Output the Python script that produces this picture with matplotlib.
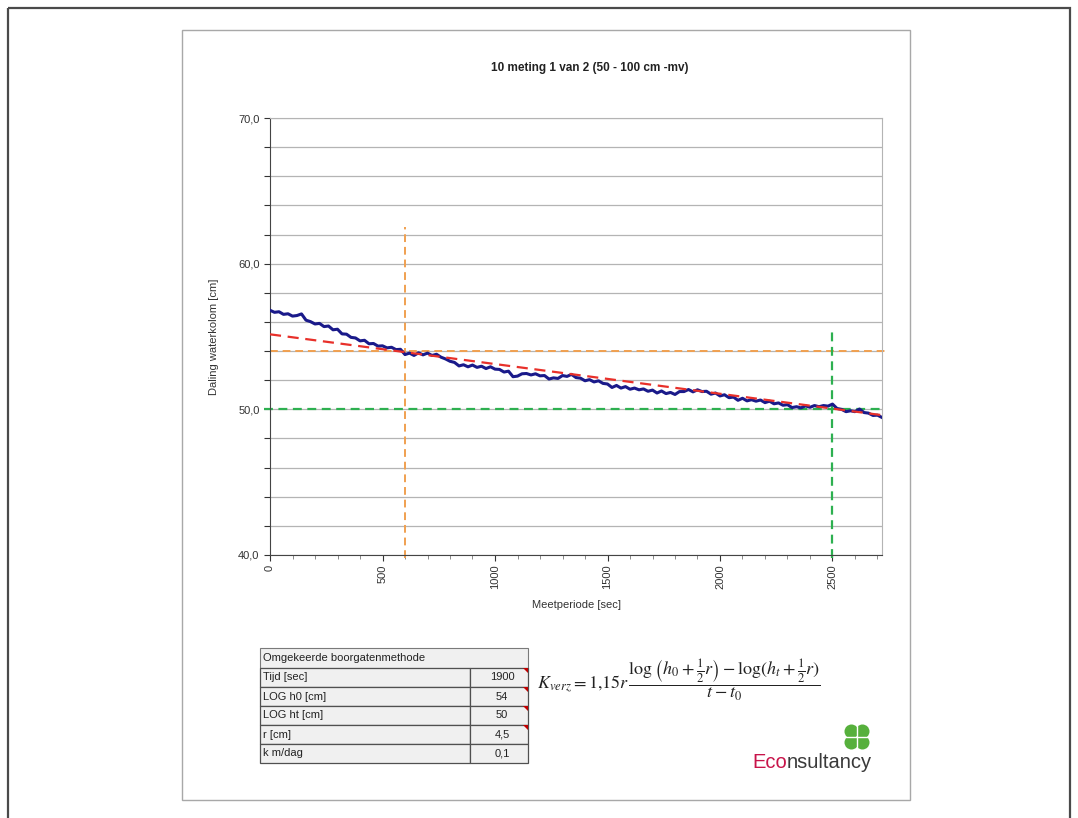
import numpy as np
import matplotlib.pyplot as plt
from matplotlib.patches import Rectangle, Polygon, Circle

plt.rcParams['font.family'] = ['Liberation Sans', 'DejaVu Sans']
plt.rcParams['mathtext.fontset'] = 'stix'

# gemeten waterstand, elke 20 s
stand = [56.80, 56.66, 56.70, 56.52, 56.56, 56.40, 56.44, 56.55, 56.12, 56.02,
         55.86, 55.90, 55.68, 55.72, 55.46, 55.50, 55.18, 55.16, 54.94, 54.90,
         54.70, 54.74, 54.50, 54.52, 54.34, 54.36, 54.22, 54.26, 54.10, 54.12,
         53.76, 53.86, 53.70, 53.88, 53.74, 53.86, 53.70, 53.78, 53.58, 53.46,
         53.30, 53.22, 52.98, 53.06, 52.92, 53.04, 52.88, 52.96, 52.80, 52.92,
         52.76, 52.74, 52.56, 52.62, 52.24, 52.28, 52.44, 52.46, 52.36, 52.44,
         52.30, 52.32, 52.08, 52.16, 52.12, 52.32, 52.26, 52.40, 52.18, 52.14,
         51.96, 52.04, 51.88, 51.96, 51.78, 51.74, 51.50, 51.64, 51.46, 51.56,
         51.38, 51.46, 51.34, 51.40, 51.24, 51.32, 51.12, 51.26, 51.08, 51.16,
         51.02, 51.22, 51.22, 51.36, 51.20, 51.34, 51.22, 51.24, 51.04, 51.12,
         50.92, 51.00, 50.80, 50.84, 50.62, 50.76, 50.58, 50.66, 50.56, 50.64,
         50.46, 50.56, 50.38, 50.44, 50.28, 50.32, 50.12, 50.18, 50.10, 50.24,
         50.14, 50.26, 50.18, 50.26, 50.22, 50.36, 50.06, 50.00, 49.84, 49.90,
         49.84, 50.02, 49.78, 49.74, 49.58, 49.60, 49.44]
tijd = np.arange(len(stand)) * 20

# trendlijn (begin- en eindpunt)
trend_t = [0, 2720]
trend_h = [55.15, 49.60]

t0, t1 = 600, 2500
h0, ht = 54, 50

tabel_labels = ['Tijd [sec]', 'LOG h0 [cm]', 'LOG ht [cm]', 'r [cm]', 'k m/dag']
tabel_waarden = ['1900', '54', '50', '4,5', '0,1']

W, H = 1078, 818
fig = plt.figure(figsize=(W / 100, H / 100), dpi=100)

# achtergrond in pixelcoordinaten
bg = fig.add_axes([0, 0, 1, 1], zorder=0)
bg.set_xlim(0, W)
bg.set_ylim(H, 0)
bg.axis('off')
bg.add_patch(Rectangle((8, 8), 1062, 830, fill=False, edgecolor='#4a4a4a', lw=1.6))
bg.add_patch(Rectangle((182, 30), 728, 770, facecolor='white', edgecolor='#a8a8a8', lw=1.0))

bg.text(590, 68, '10 meting 1 van 2 (50 - 100 cm -mv)', ha='center', va='center',
        fontsize=8.5, fontweight='bold', color='#222222')

# grafiek
ax = fig.add_axes([270 / W, 1 - 555 / H, 612 / W, 437 / H], zorder=1)
ax.plot(tijd, stand, color='#1a1a8a', lw=2.2, zorder=3)
ax.plot(trend_t, trend_h, color='#e8302a', lw=1.6, ls=(0, (5, 3)), zorder=4)

ax.plot([0, 2750], [h0, h0], color='#f0a050', lw=1.4, ls=(0, (4, 2.5)), clip_on=False, zorder=2)
ax.plot([t0, t0], [39.8, 62.5], color='#f0a050', lw=1.4, ls=(0, (4, 2.5)), clip_on=False, zorder=2)
ax.plot([-25, 2720], [ht, ht], color='#2db050', lw=1.6, ls=(0, (4, 2.5)), clip_on=False, zorder=2)
ax.plot([t1, t1], [39.8, 55.4], color='#2db050', lw=1.6, ls=(0, (4, 2.5)), clip_on=False, zorder=2)

ax.set_xlim(0, 2720)
ax.set_ylim(40, 70)
ax.set_yticks(np.arange(40, 71, 2))
ax.set_yticklabels([f'{v:.1f}'.replace('.', ',') if v % 10 == 0 else '' for v in np.arange(40, 71, 2)])
ax.set_xticks(np.arange(0, 2501, 500))
ax.set_xticks(np.arange(0, 2701, 100), minor=True)
ax.tick_params(axis='x', labelrotation=90, labelsize=8, colors='#333333', length=4, pad=3)
ax.tick_params(axis='x', which='minor', length=3, color='#777777')
ax.tick_params(axis='y', labelsize=8, colors='#333333', length=4)
ax.grid(axis='y', color='#b4b4b4', lw=0.9)
ax.set_axisbelow(True)
for side in ['top', 'right']:
    ax.spines[side].set_color('#b4b4b4')
for side in ['left', 'bottom']:
    ax.spines[side].set_color('#444444')
ax.set_xlabel('Meetperiode [sec]', fontsize=8, color='#333333', labelpad=8)
ax.set_ylabel('Daling waterkolom [cm]', fontsize=8, color='#333333', labelpad=14)

# tabel
x0, xs, x1 = 260, 470, 528
bg.add_patch(Rectangle((x0, 648), x1 - x0, 20, facecolor='#f0f0f0', edgecolor='#7a7a7a', lw=0.8))
bg.text(x0 + 3, 658, 'Omgekeerde boorgatenmethode', ha='left', va='center', fontsize=8, color='#222222')
for i, (lab, val) in enumerate(zip(tabel_labels, tabel_waarden)):
    y = 668 + i * 19
    bg.add_patch(Rectangle((x0, y), xs - x0, 19, facecolor='#f0f0f0', edgecolor='#505050', lw=0.9))
    bg.add_patch(Rectangle((xs, y), x1 - xs, 19, facecolor='#f0f0f0', edgecolor='#505050', lw=0.9))
    bg.text(x0 + 3, y + 9.5, lab, ha='left', va='center', fontsize=8, color='#222222')
    bg.text(502, y + 9.5, val, ha='center', va='center', fontsize=8, color='#222222')
    if i < 4:
        bg.add_patch(Polygon([[x1 - 5, y], [x1, y], [x1, y + 5]], closed=True,
                             facecolor='#c00000', edgecolor='none'))

# formule
bg.text(537, 680,
        r'$K_{verz} = 1{,}15r\,\dfrac{\log\left(h_0+\frac{1}{2}r\right)-\log(h_t+\frac{1}{2}r)}{t-t_0}$',
        ha='left', va='center', fontsize=13, color='#222222')

# logo
t = bg.text(752, 762, 'Eco', ha='left', va='center', fontsize=14.5, color='#c8144a',
            family=['Liberation Sans Narrow', 'Liberation Sans'])
fig.canvas.draw()
bb = t.get_window_extent()
bg.text(752 + bb.width, 762, 'nsultancy', ha='left', va='center', fontsize=14.5, color='#3a3a3a',
        family=['Liberation Sans Narrow', 'Liberation Sans'])
for dx, dy in [(-5.5, -5.5), (5.5, -5.5), (-5.5, 5.5), (5.5, 5.5)]:
    bg.add_patch(Circle((857 + dx, 737 + dy), 7, facecolor='#56b03c', edgecolor='none'))
bg.plot([857, 857], [724, 750], color='white', lw=1.0)
bg.plot([844, 870], [737, 737], color='white', lw=1.0)

fig.savefig('out.png', dpi=100)
